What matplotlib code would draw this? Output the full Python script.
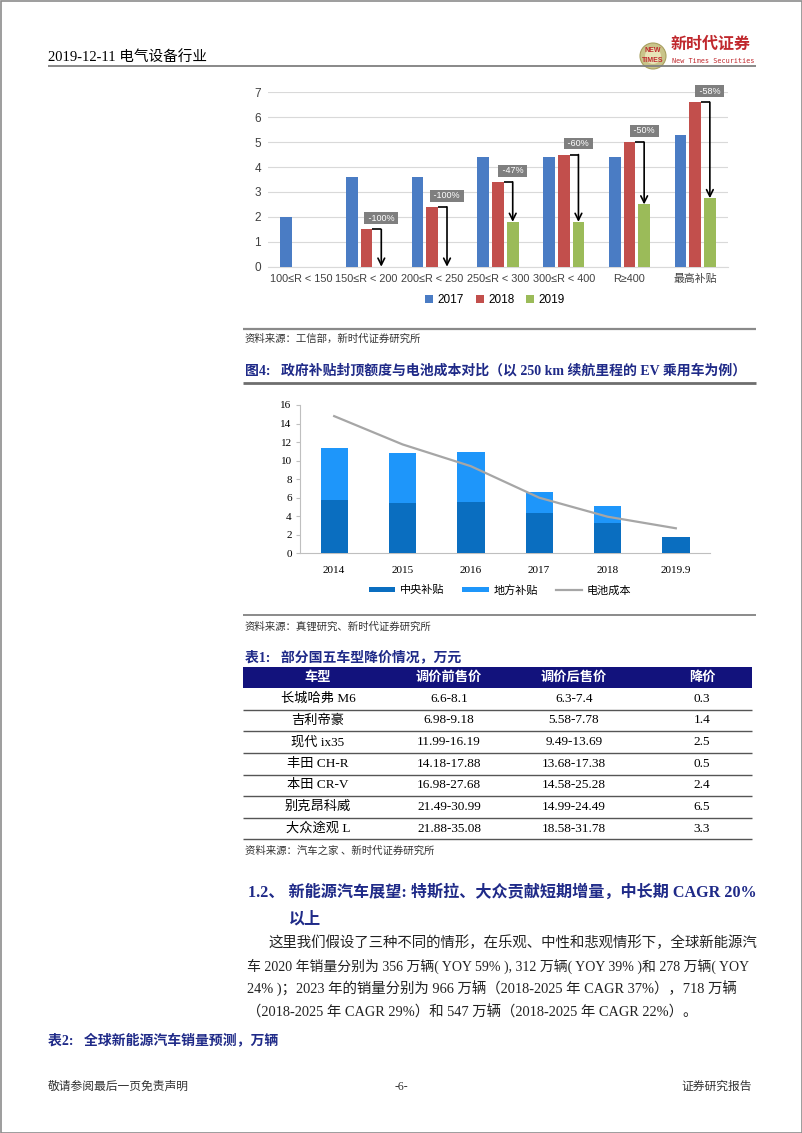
import numpy as np
import matplotlib
matplotlib.use("Agg")
import matplotlib.pyplot as plt
from matplotlib.patches import Rectangle, Circle

SERIF = ['Liberation Serif', 'Noto Sans CJK SC']
SANS = ['Liberation Sans', 'Noto Sans CJK SC']
NAVY = '#1F2A88'

# ---------------- data ----------------
cats1 = ['100≤R < 150', '150≤R < 200', '200≤R < 250', '250≤R < 300', '300≤R < 400', 'R≥400', '最高补贴']
v2017 = [2.0, 3.6, 3.6, 4.4, 4.4, 4.4, 5.3]
v2018 = [0.0, 1.5, 2.4, 3.4, 4.5, 5.0, 6.6]
v2019 = [0.0, 0.0, 0.0, 1.8, 1.8, 2.5, 2.75]
drops = ['', '-100%', '-100%', '-47%', '-60%', '-50%', '-58%']

years2 = ['2014', '2015', '2016', '2017', '2018', '2019.9']
central = [5.8, 5.4, 5.5, 4.4, 3.3, 1.8]
local = [5.6, 5.4, 5.45, 2.2, 1.85, 0.0]
battery = [14.8, 11.75, 9.4, 6.0, 3.95, 2.7]

tbl_header = ['车型', '调价前售价', '调价后售价', '降价']
tbl_model = ['长城哈弗 M6', '吉利帝豪', '现代 ix35', '丰田 CH-R', '本田 CR-V', '别克昂科威', '大众途观 L']
tbl_before = ['6.6-8.1', '6.98-9.18', '11.99-16.19', '14.18-17.88', '16.98-27.68', '21.49-30.99', '21.88-35.08']
tbl_after = ['6.3-7.4', '5.58-7.78', '9.49-13.69', '13.68-17.38', '14.58-25.28', '14.99-24.49', '18.58-31.78']
tbl_drop = ['0.3', '1.4', '2.5', '0.5', '2.4', '6.5', '3.3']

W, H = 802, 1133
fig = plt.figure(figsize=(W / 100, H / 100), dpi=100)
fig.patch.set_facecolor('white')

ov = fig.add_axes([0, 0, 1, 1])
ov.set_xlim(0, W)
ov.set_ylim(H, 0)
ov.axis('off')


def T(x, y, s, size, color='black', weight='normal', ha='left', va='center', fam=SERIF):
    ov.text(x, y, s, fontsize=size, color=color, fontweight=weight, ha=ha, va=va, family=fam)


def HL(y, x0=243, x1=756, lw=1.0, color='#808080'):
    ov.plot([x0, x1], [y, y], color=color, lw=lw, solid_capstyle='butt')


def pos(x0, y0, x1, y1):
    return [x0 / W, 1 - y1 / H, (x1 - x0) / W, (y1 - y0) / H]


# page border
ov.add_patch(Rectangle((0.5, 0.5), W - 1, H - 1, fill=False, ec='#8c8c8c', lw=1.2))

# ---------------- header ----------------
T(48, 57, '2019-12-11 电气设备行业', 10.5)
HL(66, 48, 756, lw=1.3, color='#7f7f7f')
ov.add_patch(Circle((653, 56), 13, fc='#C9C48A', ec='#A8A060', lw=0.8))
ov.add_patch(Circle((653, 56), 8, fc='#E8E4B8', ec='none'))
T(653, 51, 'NEW', 5, color='#C0282D', weight='bold', ha='center', fam=SANS)
T(653, 60, 'TIMES', 5, color='#C0282D', weight='bold', ha='center', fam=SANS)
T(671, 45, '新时代证券', 11.5, color='#C0282D', weight='bold', fam=SERIF)
T(672, 61, 'New Times Securities', 4.9, color='#C0282D', fam=['DejaVu Sans Mono'])

# ---------------- chart 1 ----------------
ax1 = fig.add_axes(pos(268, 92.3, 728, 266.7))
x = np.arange(len(cats1))
bw = 0.178
off = 0.224
c17, c18, c19 = '#4A7CC4', '#C24F4C', '#9BBB59'
ax1.bar(x - off, v2017, bw, color=c17, label='2017', zorder=3)
ax1.bar(x, v2018, bw, color=c18, label='2018', zorder=3)
ax1.bar(x + off, v2019, bw, color=c19, label='2019', zorder=3)
ax1.set_xlim(-0.5, len(cats1) - 0.5)
ax1.set_ylim(0, 7)
ax1.set_yticks(range(0, 8))
ax1.grid(axis='y', color='#D9D9D9', lw=0.8, zorder=0)
for s in ['top', 'right', 'left']:
    ax1.spines[s].set_visible(False)
ax1.spines['bottom'].set_color('#D9D9D9')
ax1.tick_params(axis='y', length=0, labelsize=8.5, labelcolor='#404040', pad=5)
ax1.tick_params(axis='x', length=0, labelsize=7.8, labelcolor='#404040', pad=5)
ax1.set_xticks(x)
ax1.set_xticklabels(cats1, family=SANS)
for lab in ax1.get_yticklabels():
    lab.set_family(SANS)
for i, d in enumerate(drops):
    if not d:
        continue
    r = v2018[i]
    g = v2019[i]
    xg = x[i] + off
    ax1.plot([x[i] + bw / 2, xg], [r, r], color='black', lw=1.2, zorder=4, solid_capstyle='butt')
    ax1.annotate('', xy=(xg, g), xytext=(xg, r),
                 arrowprops=dict(arrowstyle='->', color='black', lw=1.2, shrinkA=0, shrinkB=0,
                                 mutation_scale=12), zorder=5)
    ax1.text(xg, r + 0.45, ' ' + d + ' ', ha='center', va='center', fontsize=6.5, color='white',
             family=SANS, zorder=6, clip_on=False,
             bbox=dict(boxstyle='square,pad=0.15', fc='#7F7F7F', ec='none'))
ax1.legend(loc='center', bbox_to_anchor=(495 / W, 1 - 300 / H), bbox_transform=fig.transFigure,
           ncol=3, frameon=False, handlelength=0.7, handleheight=0.7,
           handletextpad=0.35, columnspacing=1.0, prop={'family': SANS, 'size': 8.5})

HL(329, lw=1.6, color='#8a8a8a')
T(245, 339, '资料来源：工信部，新时代证券研究所', 7.5, color='#333333')

T(245, 371, '图4:   政府补贴封顶额度与电池成本对比（以 250 km 续航里程的 EV 乘用车为例）', 10,
  color=NAVY, weight='bold')
HL(383, lw=2.0, color='#6e6e6e')

# ---------------- chart 2 ----------------
ax2 = fig.add_axes(pos(300, 405, 710, 553.3))
x2 = np.arange(len(years2))
cc, lc, bc = '#0A6EC0', '#1E96FA', '#A6A6A6'
b1 = ax2.bar(x2, central, 0.4, color=cc, label='中央补贴', zorder=3)
b2 = ax2.bar(x2, local, 0.4, bottom=central, color=lc, label='地方补贴', zorder=3)
l1, = ax2.plot(x2, battery, color=bc, lw=1.6, label='电池成本', zorder=4)
ax2.set_xlim(-0.5, len(years2) - 0.5)
ax2.set_ylim(0, 16)
ax2.set_yticks(range(0, 17, 2))
ax2.set_xticks(x2)
ax2.set_xticklabels(years2, family=SERIF)
for lab in ax2.get_yticklabels():
    lab.set_family(SERIF)
for s in ['top', 'right']:
    ax2.spines[s].set_visible(False)
ax2.spines['left'].set_color('#BFBFBF')
ax2.spines['bottom'].set_color('#BFBFBF')
ax2.tick_params(axis='y', length=3, color='#BFBFBF', labelsize=8, pad=3)
ax2.tick_params(axis='x', length=0, labelsize=8, pad=9)
ax2.legend([b1, b2, l1], ['中央补贴', '地方补贴', '电池成本'],
           loc='center', bbox_to_anchor=(500 / W, 1 - 590 / H), bbox_transform=fig.transFigure,
           ncol=3, frameon=False, handlelength=2.4, handleheight=0.45,
           handletextpad=0.4, columnspacing=1.6, prop={'family': SERIF, 'size': 8})

HL(615, lw=1.4, color='#8a8a8a')
T(245, 627, '资料来源：真锂研究、新时代证券研究所', 7.5, color='#333333')

# ---------------- table ----------------
T(245, 657, '表1:   部分国五车型降价情况，万元', 10, color=NAVY, weight='bold')
ov.add_patch(Rectangle((243, 667), 509, 21, fc='#12127C', ec='none'))
colx = [318, 449, 574, 702]
for cx, h in zip(colx, tbl_header):
    T(cx, 678, h, 9.5, color='white', weight='bold', ha='center')
rh = 21.64
for k in range(len(tbl_model)):
    yc = 688 + (k + 0.5) * rh
    for cx, s in zip(colx, [tbl_model[k], tbl_before[k], tbl_after[k], tbl_drop[k]]):
        T(cx, yc, s, 9.5, ha='center')
    HL(688 + (k + 1) * rh, 243, 752, lw=1.0, color='#555555')
T(245, 851, '资料来源：汽车之家 、新时代证券研究所', 7.5, color='#333333')

# ---------------- text ----------------
T(248, 893, '1.2、 新能源汽车展望: 特斯拉、大众贡献短期增量，中长期 CAGR 20%', 11.6, color=NAVY, weight='bold')
T(289, 920, '以上', 11.6, color=NAVY, weight='bold')
body = ['这里我们假设了三种不同的情形，在乐观、中性和悲观情形下，全球新能源汽',
        '车 2020 年销量分别为 356 万辆( YOY 59% ), 312 万辆( YOY 39% )和 278 万辆( YOY',
        '24% )；2023 年的销量分别为 966 万辆（2018-2025 年 CAGR 37%），718 万辆',
        '（2018-2025 年 CAGR 29%）和 547 万辆（2018-2025 年 CAGR 22%）。']
bx = [268, 247, 247, 247]
bs = [10.4, 10.0, 10.4, 10.4]
for i, (s, xx, fs) in enumerate(zip(body, bx, bs)):
    T(xx, 943 + i * 23, s, fs, color='#222222')

T(48, 1040, '表2:   全球新能源汽车销量预测，万辆', 10, color=NAVY, weight='bold')

# ---------------- footer ----------------
T(48, 1087, '敬请参阅最后一页免责声明', 8.5, color='#333333')
T(401, 1087, '-6-', 8.5, ha='center', color='#333333')
T(752, 1087, '证券研究报告', 8.5, ha='right', color='#333333')

fig.savefig('out.png', dpi=100, facecolor='white')
